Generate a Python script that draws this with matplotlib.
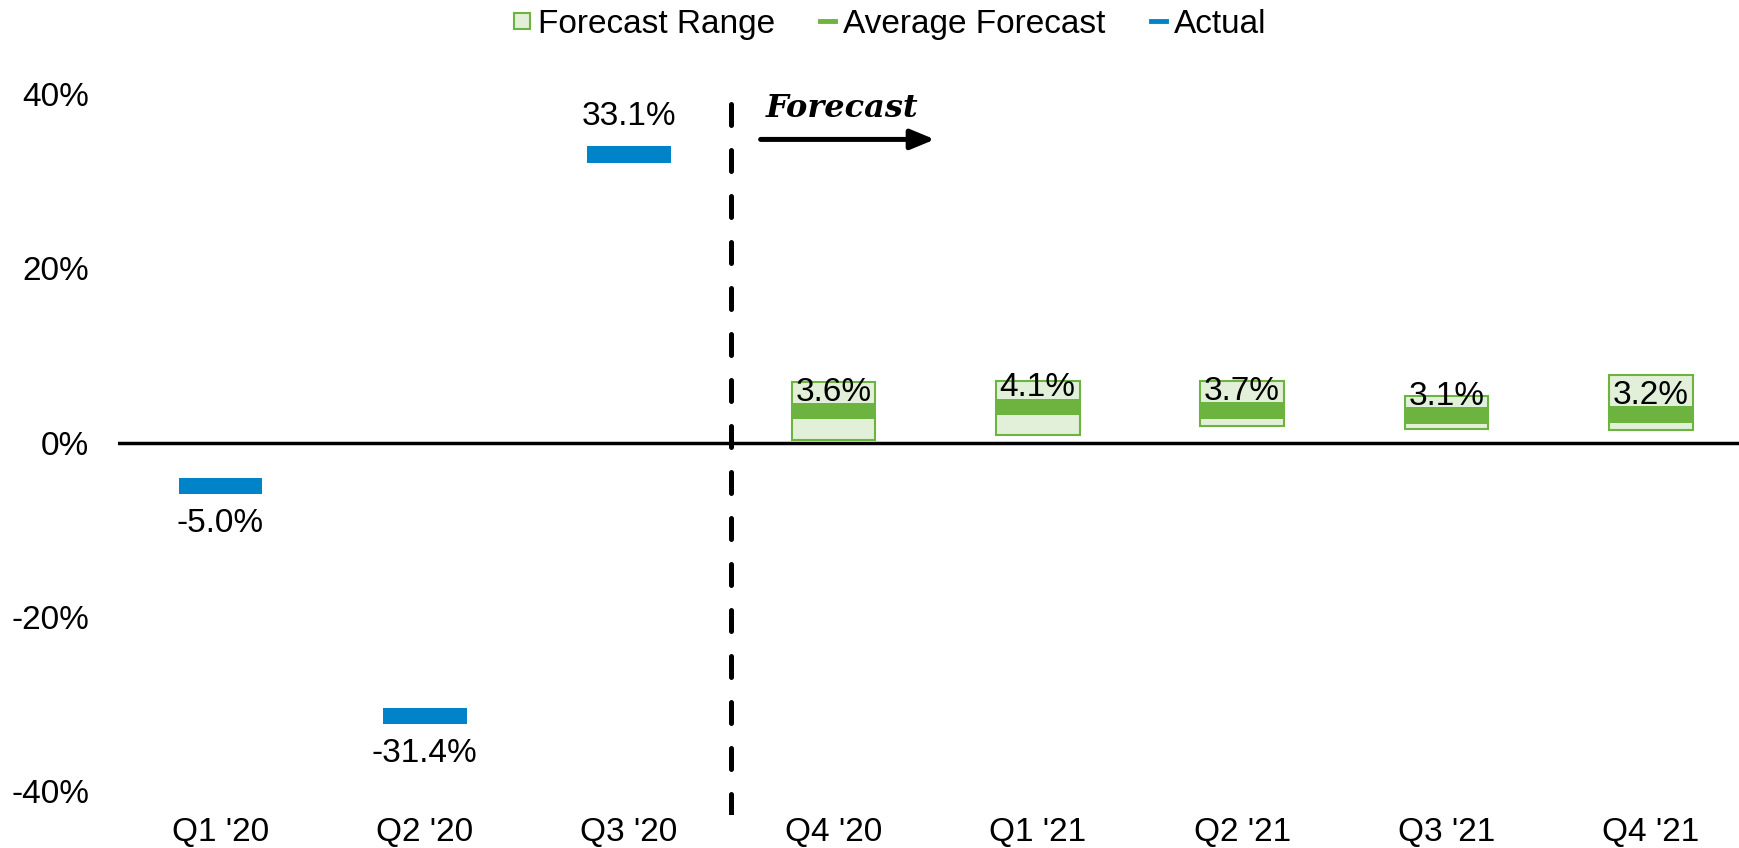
import matplotlib.pyplot as plt
from matplotlib.lines import Line2D

# Colours
Blue = "#0083C9"
Green = "#6DB33F"
Light_Green = "#E2F0D9"

# Data
quarters = ["Q1 '20", "Q2 '20", "Q3 '20", "Q4 '20", "Q1 '21", "Q2 '21", "Q3 '21", "Q4 '21"]
actual = [-5.0, -31.4, 33.1]
forecast_avg = [3.6, 4.1, 3.7, 3.1, 3.2]
forecast_low = [0.3, 0.9, 1.9, 1.5, 1.45]
forecast_high = [7.0, 7.1, 7.1, 5.3, 7.7]
yticks = [-40, -20, 0, 20, 40]

plt.rcParams["font.family"] = ["Liberation Sans", "DejaVu Sans"]
FS = 24

fig = plt.figure(figsize=(17.39, 8.48), dpi=100)
ax = fig.add_axes([0.068, 0.0385, 0.94, 0.8505])

width = 0.41
thick = 1.9

# Actual values as thick dashes
x_act = list(range(len(actual)))
ax.bar(x_act, [thick] * len(actual), width=width,
       bottom=[v - thick / 2 for v in actual], color=Blue, zorder=3)
for x, v in zip(x_act, actual):
    if v >= 0:
        ax.text(x, v + 3.3, f"{v:.1f}%", ha="center", va="baseline", fontsize=FS)
    else:
        ax.text(x, v - 5.3, f"{v:.1f}%", ha="center", va="baseline", fontsize=FS)

# Forecast range boxes and averages
x_fc = list(range(len(actual), len(quarters)))
ax.bar(x_fc, [h - l for h, l in zip(forecast_high, forecast_low)], width=width,
       bottom=forecast_low, color=Light_Green, edgecolor=Green, linewidth=1.5, zorder=3)
ax.bar(x_fc, [thick] * len(forecast_avg), width=width,
       bottom=[v - thick / 2 for v in forecast_avg], color=Green, zorder=4)
for x, v in zip(x_fc, forecast_avg):
    ax.text(x, v + 1.2, f"{v:.1f}%", ha="center", va="baseline", fontsize=FS, zorder=5)

# Zero line and forecast divider
ax.axhline(0, color="black", linewidth=2.5, zorder=2)
ax.axvline(2.5, color="black", linestyle=(0, (4.2, 5.0)), linewidth=3.6,
           dash_capstyle="round", zorder=2)

ax.annotate("", xy=(3.51, 34.8), xytext=(2.63, 34.8),
            arrowprops=dict(arrowstyle="-|>,head_length=1.45,head_width=0.6",
                            color="black", linewidth=3.6, capstyle="round"))
ax.text(2.67, 38.3, "Forecast", fontsize=23, fontweight="bold", fontstyle="italic",
        family="DejaVu Serif", ha="left", va="center")

ax.set_xlim(-0.5, 7.5)
ax.set_ylim(-42.8, 40)
ax.set_xticks(range(len(quarters)))
ax.set_xticklabels(quarters, fontsize=FS)
ax.set_yticks(yticks)
ax.set_yticklabels([f"{t}%" for t in yticks], fontsize=FS)
ax.tick_params(axis="y", length=0, pad=21)
ax.tick_params(axis="x", length=0, pad=1)
for s in ax.spines.values():
    s.set_visible(False)

handles = [
    Line2D([], [], marker="s", linestyle="none", markersize=11,
           markerfacecolor=Light_Green, markeredgecolor=Green, markeredgewidth=1.5),
    Line2D([], [], color=Green, linewidth=3.5),
    Line2D([], [], color=Blue, linewidth=3.5),
]
fig.legend(handles, ["Forecast Range", "Average Forecast", "Actual"],
           loc="center", bbox_to_anchor=(0.512, 0.971), ncol=3, frameon=False,
           fontsize=FS, handlelength=0.45, handletextpad=0.25, columnspacing=1.35,
           borderpad=0)

fig.savefig("out.png", dpi=100)
